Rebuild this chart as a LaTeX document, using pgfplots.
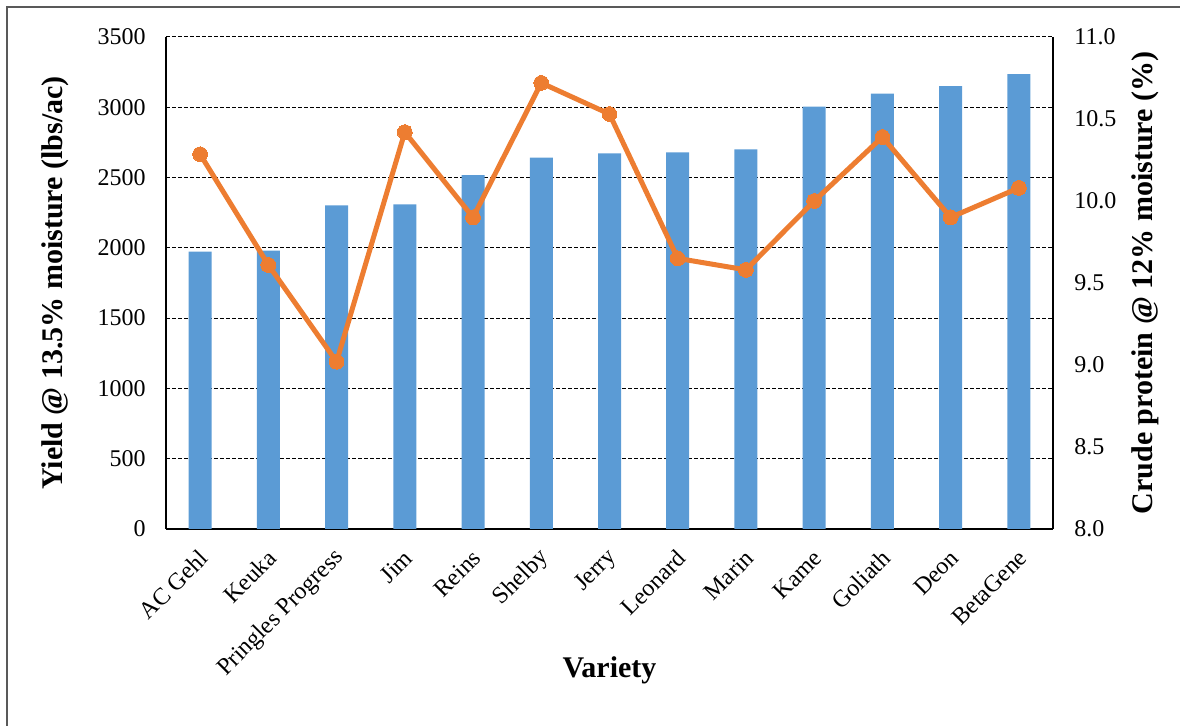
\documentclass[border=0pt]{standalone}
\usepackage{pgfplots}
\pgfplotsset{compat=1.18}
\usepackage{fontspec}
\setmainfont{Liberation Serif}
\definecolor{barblue}{HTML}{5B9BD5}
\definecolor{lineorange}{HTML}{ED7D31}
\definecolor{framegray}{HTML}{595959}
\begin{document}
\begin{tikzpicture}
\useasboundingbox (0pt,0pt) rectangle (590pt,363pt);
\draw[framegray, line width=0.75pt] (3.5pt,-20pt) -- (3.5pt,359.5pt) -- (610pt,359.5pt);
\pgfplotsset{
  every tick label/.append style={font=\fontsize{12}{14}\selectfont},
  every axis label/.append style={font=\fontsize{15}{18}\selectfont\bfseries},
}
\begin{axis}[
  at={(83pt,98.5pt)}, anchor=south west,
  scale only axis, width=443.5pt, height=246pt,
  xmin=-0.5, xmax=12.5, ymin=0, ymax=3500,
  axis x line*=bottom, axis y line*=left,
  axis line style={black, line width=0.6pt, -},
  xtick={0,...,12},
  xticklabels={AC Gehl,Keuka,Pringles Progress,Jim,Reins,Shelby,Jerry,Leonard,Marin,Kame,Goliath,Deon,BetaGene},
  xticklabel style={anchor=east, inner sep=0pt, xshift=2pt, yshift=-12.5pt, rotate=45},
  ytick={0,500,...,3500},
  yticklabel style={anchor=east, inner sep=0pt, xshift=-10pt},
  major tick length=0pt,
  ymajorgrids, major grid style={black, line width=0.5pt, dash pattern=on 2pt off 1pt},
  /pgf/number format/assume math mode=true,
  /pgf/number format/1000 sep={},
  xlabel={Variety},
  xlabel style={at={(axis description cs:0.5,-0.2866)}, anchor=center},
  ylabel={Yield @ 13.5\% moisture (lbs/ac)},
  ylabel style={at={(axis description cs:-0.1251,0.5)}, anchor=center},
]
\addplot[ybar, bar width=11.5pt, fill=barblue, draw=none] coordinates {
  (0,1973) (1,1980) (2,2303) (3,2310) (4,2518) (5,2642) (6,2672)
  (7,2680) (8,2701) (9,3004) (10,3097) (11,3151) (12,3235)
};
\end{axis}
\begin{axis}[
  at={(83pt,98.5pt)}, anchor=south west,
  scale only axis, width=443.5pt, height=246pt,
  xmin=-0.5, xmax=12.5, ymin=8, ymax=11,
  axis x line=none, axis y line*=right,
  axis line style={black, line width=0.6pt, -},
  ytick={8,8.5,...,11},
  yticklabel style={anchor=west, inner sep=0pt, xshift=10.5pt,
    /pgf/number format/.cd, fixed, fixed zerofill, precision=1},
  major tick length=0pt,
  /pgf/number format/assume math mode=true,
  ylabel={Crude protein @ 12\% moisture (\%)},
  every axis y label/.style={at={(axis description cs:1.1037,0.5)}, anchor=center, rotate=90},
  clip=false,
]
\addplot[lineorange, line width=2.5pt, mark=*, mark size=3.7pt, mark options={fill=lineorange, draw=lineorange, line width=0pt}] coordinates {
  (0,10.285) (1,9.61) (2,9.02) (3,10.42) (4,9.90) (5,10.72) (6,10.53)
  (7,9.65) (8,9.58) (9,10.0) (10,10.39) (11,9.90) (12,10.08)
};
\end{axis}
\end{tikzpicture}
\end{document}
